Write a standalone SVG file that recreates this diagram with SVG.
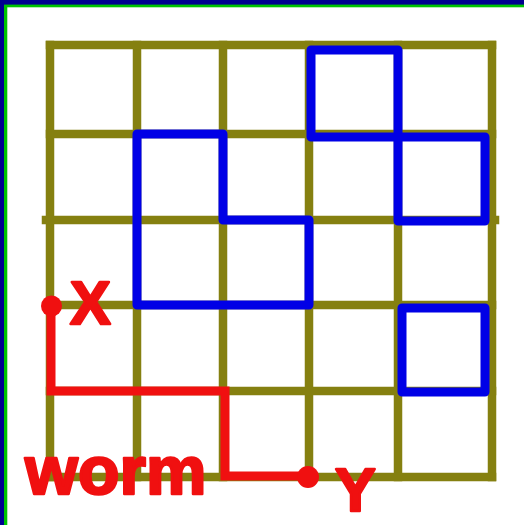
<svg xmlns="http://www.w3.org/2000/svg" width="524" height="525" viewBox="0 0 524 525">
<style>
.grid{stroke:#858010;stroke-width:8.5;stroke-linecap:square;fill:none}
.blue{stroke:#0000E6;stroke-width:9;stroke-linejoin:round;fill:none}
.red{stroke:#F01010;stroke-width:9;stroke-linejoin:miter;fill:none}
.lbl{font-family:"Liberation Sans",Arial,sans-serif;font-weight:bold;fill:#F01010;stroke:#F01010;stroke-width:2.5;stroke-linejoin:round}
</style>
<rect x="0" y="0" width="524" height="525" fill="#FFFFFF"/>
<g id="frame">
<rect x="0" y="0" width="524" height="7.3" fill="#00C400"/>
<rect x="0" y="0" width="7.3" height="525" fill="#00C400"/>
<rect x="0" y="0" width="524" height="4.6" fill="#000090"/>
<rect x="0" y="0" width="4" height="525" fill="#000090"/>
</g>
<g id="grid" class="grid">
<line x1="50" y1="45" x2="50" y2="477"/>
<line x1="137" y1="45" x2="137" y2="477"/>
<line x1="223" y1="45" x2="223" y2="477"/>
<line x1="309" y1="45" x2="309" y2="477"/>
<line x1="398" y1="45" x2="398" y2="477"/>
<line x1="492" y1="45" x2="492" y2="477"/>
<line x1="50" y1="45" x2="492" y2="45"/>
<line x1="50" y1="134" x2="492" y2="134"/>
<line x1="46" y1="220" x2="495" y2="220"/>
<line x1="50" y1="305" x2="492" y2="305"/>
<line x1="50" y1="391" x2="492" y2="391"/>
<line x1="50" y1="477" x2="492" y2="477"/>
</g>
<g id="connectors">
<polygon class="blue" points="137,134 223,134 223,220 309,220 309,305 137,305"/>
<polygon class="blue" points="311,50 398,50 398,221 485,221 485,137 311,137"/>
<rect class="blue" x="402" y="308" width="83" height="84"/>
<polyline class="red" points="51,306 51,391 225,391 225,476 308,476"/>
</g>
<g id="nodeX">
<circle cx="51.5" cy="306" r="10.5" fill="#F01010"/>
<text class="lbl" x="70" y="324" font-size="61">X</text>
</g>
<g id="nodeY">
<circle cx="308" cy="477" r="11" fill="#F01010"/>
<text class="lbl" x="335" y="511" font-size="61">Y</text>
</g>
<g id="label-worm">
<text class="lbl" x="25" y="494" font-size="68">worm</text>
</g>
</svg>
